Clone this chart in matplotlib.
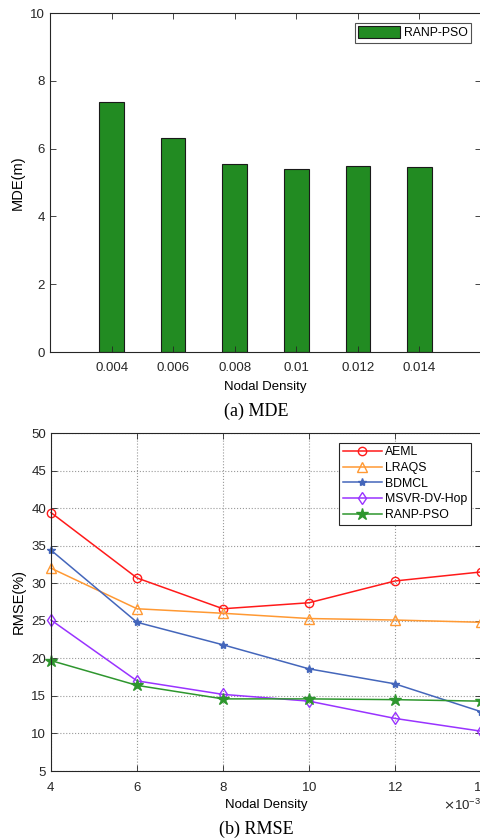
import matplotlib

matplotlib.use("Agg")
import matplotlib.pyplot as plt
import numpy as np
from matplotlib.ticker import ScalarFormatter

plt.rcParams.update(
    {
        "font.family": ["Liberation Sans", "DejaVu Sans"],
        "font.size": 9.5,
        "axes.edgecolor": "#262626",
        "xtick.color": "#262626",
        "ytick.color": "#262626",
        "xtick.direction": "in",
        "ytick.direction": "in",
        "mathtext.fontset": "dejavusans",
    }
)

# MDE per nodal density (bar chart)
density_labels = ["0.004", "0.006", "0.008", "0.01", "0.012", "0.014"]
mde_ranp_pso = [7.36, 6.30, 5.55, 5.40, 5.50, 5.45]

# RMSE per nodal density (line chart)
density = [0.004, 0.006, 0.008, 0.010, 0.012, 0.014]
rmse_aeml = [39.4, 30.7, 26.6, 27.4, 30.3, 31.5]
rmse_lraqs = [32.0, 26.6, 26.0, 25.3, 25.1, 24.8]
rmse_bdmcl = [34.4, 24.8, 21.8, 18.6, 16.6, 12.9]
rmse_msvr = [25.1, 17.0, 15.2, 14.3, 12.0, 10.3]
rmse_ranp = [19.7, 16.4, 14.6, 14.6, 14.5, 14.3]

W, H = 481, 840
fig = plt.figure(figsize=(W / 100, H / 100), dpi=100)


def frac_axes(left, top, right, bottom):
    return fig.add_axes([left / W, 1 - bottom / H, (right - left) / W, (bottom - top) / H])


def mirror_ticks(ax):
    ax.tick_params(top=True, right=True, length=4, width=0.6, labelcolor="#262626")
    ax.tick_params(axis="x", pad=7)
    for s in ax.spines.values():
        s.set_linewidth(0.8)


# (a) MDE bars
ax1 = frac_axes(50, 13, 481, 352)
pos = np.arange(1, len(density_labels) + 1)
ax1.bar(pos, mde_ranp_pso, width=0.4, color="#228b22", edgecolor="#1a1a1a",
        linewidth=0.8, label="RANP-PSO")
ax1.set_xlim(0, 7)
ax1.set_ylim(0, 10)
ax1.set_xticks(pos)
ax1.set_xticklabels(density_labels)
ax1.set_yticks(np.arange(0, 11, 2))
ax1.set_xlabel("Nodal Density", labelpad=5)
ax1.set_ylabel("MDE(m)", labelpad=4, fontsize=10.5)
mirror_ticks(ax1)
leg1 = ax1.legend(loc="upper right", fancybox=False, edgecolor="#262626",
                  handlelength=3.4, handleheight=1.1, borderpad=0.3,
                  handletextpad=0.3, borderaxespad=0.8, fontsize=8.8)
leg1.get_frame().set_linewidth(0.8)

fig.text(256 / W, 1 - 411 / H, "(a) MDE", ha="center", va="center",
         family="Liberation Serif", fontsize=13)

# (b) RMSE lines
ax2 = frac_axes(51, 433, 481, 771)
series = [
    ("AEML", rmse_aeml, "#ff1a1a", "o", 6, "none"),
    ("LRAQS", rmse_lraqs, "#ff9933", "^", 6.5, "none"),
    ("BDMCL", rmse_bdmcl, "#4466bb", "*", 6, None),
    ("MSVR-DV-Hop", rmse_msvr, "#9933ff", "d", 6.5, "none"),
    ("RANP-PSO", rmse_ranp, "#2e962e", "*", 9, None),
]
for name, vals, col, mk, ms, mfc in series:
    kw = dict(markerfacecolor=mfc) if mfc else {}
    ax2.plot(density, vals, color=col, marker=mk, markersize=ms, linewidth=1.1,
             markeredgewidth=1.0, label=name, clip_on=False, **kw)
ax2.set_xlim(0.004, 0.014)
ax2.set_ylim(5, 50)
ax2.set_xticks(density)
ax2.set_yticks(np.arange(5, 51, 5))
fmt = ScalarFormatter(useMathText=True)
fmt.set_powerlimits((-3, -3))
ax2.xaxis.set_major_formatter(fmt)
ax2.grid(True, linestyle=":", color="#999999", linewidth=0.8)
ax2.set_xlabel("Nodal Density", labelpad=4)
ax2.set_ylabel("RMSE(%)", labelpad=4, fontsize=10.5)
mirror_ticks(ax2)
leg2 = ax2.legend(loc="upper right", fancybox=False, edgecolor="#262626",
                  handlelength=3.2, borderpad=0.3, labelspacing=0.3,
                  handletextpad=0.3, borderaxespad=0.8, fontsize=8.8, framealpha=1)
leg2.get_frame().set_linewidth(0.8)

fig.text(256 / W, 1 - 829 / H, "(b) RMSE", ha="center", va="center",
         family="Liberation Serif", fontsize=13)

fig.savefig("out.png", dpi=100)
